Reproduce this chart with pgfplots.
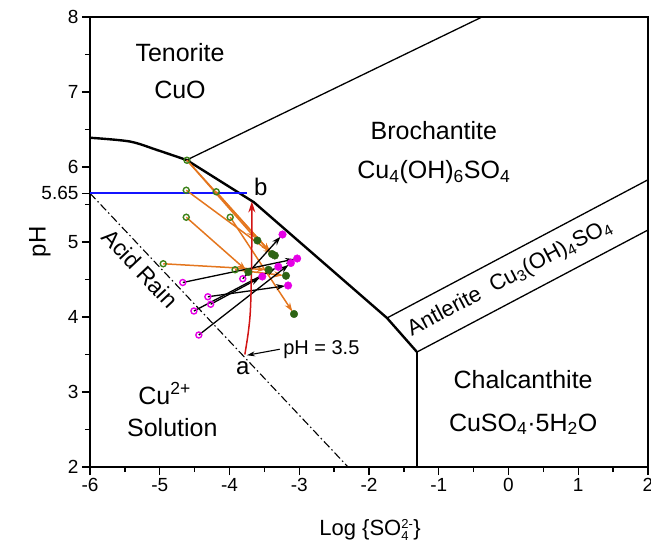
\documentclass[border=0pt]{standalone}
\usepackage{pgfplots}
\pgfplotsset{compat=1.18}
\usepackage{fontspec}
\setmainfont{Liberation Sans}
\usetikzlibrary{arrows.meta}
\definecolor{myorange}{RGB}{228,118,30}
\definecolor{mygreen}{RGB}{60,130,25}
\definecolor{mydkgreen}{RGB}{45,100,20}
\definecolor{mymag}{RGB}{230,0,230}
\definecolor{myred}{RGB}{210,20,20}
\definecolor{myblue}{RGB}{20,20,255}
\newcommand\fs[1]{\fontsize{#1}{#1}\selectfont}
\newcommand\ssb[3]{$^{\hbox{\fs{#3}#1}}_{\hbox{\fs{#3}#2}}$}
\begin{document}
\begin{tikzpicture}
\begin{axis}[
  scale only axis, width=558pt, height=450pt,
  xmin=-6, xmax=2, ymin=2, ymax=8,
  xtick={-6,-5,...,2},
  ytick={2,3,4,5,5.65,6,7,8},
  yticklabels={2,3,4,5,5.65,6,7,8},
  minor xtick={-5.5,-4.5,...,1.5},
  minor ytick={2.5,3.5,4.5,5.5,6.5,7.5},
  tick align=outside, xtick pos=bottom, ytick pos=left,
  major tick length=8pt, minor tick length=5pt,
  every tick/.style={black, line width=1.3pt},
  axis line style={line width=1.5pt},
  tick label style={font=\fs{19}},
  /pgf/number format/assume math mode=true,
  xlabel={Log \{SO\ssb{2-}{4}{13}\}},
  ylabel={pH},
  xlabel style={font=\fs{22}, at={(axis description cs:0.502,-0.14)}, anchor=center},
  ylabel style={font=\fs{24}, at={(axis description cs:-0.09,0.5)}, anchor=center},
  clip=true,
]
% phase boundaries
\addplot[black, line width=2.4pt, smooth, tension=0.5] coordinates {(-6,6.39) (-5.43,6.34) (-5.04,6.227) (-4.614,6.093)};
\addplot[black, line width=2.4pt] coordinates {(-4.614,6.093) (-3.65,5.53) (-1.742,3.987) (-1.312,3.533)};
\addplot[black, line width=1.3pt] coordinates {(-4.614,6.093) (-0.38,8)};
\addplot[black, line width=1.3pt] coordinates {(-1.742,3.987) (2,5.83)};
\addplot[black, line width=1.3pt] coordinates {(-1.312,3.533) (2,5.16)};
\addplot[black, line width=1.5pt] coordinates {(-1.312,3.533) (-1.312,2)};
% acid rain line
\addplot[black, line width=1.1pt, dash pattern=on 8pt off 3pt on 1.5pt off 3pt] coordinates {(-6,5.65) (-2.3,2.0)};
% pH 5.65 line
\addplot[color=myblue, line width=2pt] coordinates {(-6,5.65) (-3.75,5.65)};
% orange arrows (green points)
\pgfplotsset{oarr/.style={myorange, line width=1.5pt, -{Stealth[length=9pt,width=6pt]}, shorten >=3pt}}
\addplot[oarr] coordinates {(-4.61,6.09) (-3.60,5.02)};
\addplot[oarr] coordinates {(-4.61,6.09) (-3.39,4.84)};
\addplot[oarr] coordinates {(-4.62,5.69) (-3.35,4.82)};
\addplot[oarr] coordinates {(-4.19,5.67) (-3.39,4.84)};
\addplot[oarr] coordinates {(-3.99,5.33) (-3.075,4.04)};
\addplot[oarr] coordinates {(-4.62,5.33) (-3.73,4.60)};
\addplot[oarr] coordinates {(-4.95,4.71) (-3.44,4.63)};
\addplot[oarr] coordinates {(-3.92,4.63) (-3.19,4.55)};
% black arrows (magenta points)
\pgfplotsset{karr/.style={black, line width=1.3pt, -{Stealth[length=9pt,width=6pt]}, shorten >=3pt}}
\addplot[karr] coordinates {(-4.67,4.46) (-3.03,4.78)};
\addplot[karr] coordinates {(-3.81,4.51) (-3.24,5.10)};
\addplot[karr] coordinates {(-4.31,4.27) (-3.16,4.42)};
\addplot[karr] coordinates {(-4.27,4.17) (-3.53,4.54)};
\addplot[karr] coordinates {(-4.51,4.08) (-3.30,4.67)};
\addplot[karr] coordinates {(-4.44,3.76) (-3.12,4.72)};
% red path a -> b
\addplot[myred, line width=1.5pt, smooth, tension=0.6, -{Stealth[length=11pt,width=7pt]}] coordinates {(-3.78,3.5) (-3.73,3.8) (-3.70,4.1) (-3.685,4.6) (-3.68,5.1) (-3.68,5.54)};
% markers
\addplot[only marks, mark=o, mark size=3pt, mark options={mygreen, line width=1.4pt, fill=white}] coordinates {
(-4.61,6.09) (-4.62,5.69) (-4.19,5.67) (-4.62,5.33) (-3.99,5.33) (-4.95,4.71) (-3.92,4.63)};
\addplot[only marks, mark=*, mark size=3.8pt, mark options={mydkgreen, draw=mydkgreen}] coordinates {
(-3.60,5.02) (-3.39,4.84) (-3.35,4.82) (-3.73,4.60) (-3.44,4.63) (-3.19,4.55) (-3.075,4.04)};
\addplot[only marks, mark=o, mark size=3pt, mark options={mymag, line width=1.4pt, fill=white}] coordinates {
(-4.67,4.46) (-3.81,4.51) (-4.31,4.27) (-4.27,4.17) (-4.51,4.08) (-4.44,3.76)};
\addplot[only marks, mark=*, mark size=3.8pt, mark options={mymag, draw=mymag}] coordinates {
(-3.24,5.10) (-3.03,4.78) (-3.12,4.72) (-3.30,4.67) (-3.53,4.54) (-3.16,4.42)};
% labels
\node[font=\fs{25}] at (axis cs:-4.71,7.52) {Tenorite};
\node[font=\fs{25}] at (axis cs:-4.71,7.03) {CuO};
\node[font=\fs{25}] at (axis cs:-1.07,6.49) {Brochantite};
\node[font=\fs{25}] at (axis cs:-1.07,5.93) {Cu\textsubscript{4}(OH)\textsubscript{6}SO\textsubscript{4}};
\node[font=\fs{22}, rotate=27.9] at (axis cs:0.02,4.52) {Antlerite\ \ Cu\textsubscript{3}(OH)\textsubscript{4}SO\textsubscript{4}};
\node[font=\fs{25}] at (axis cs:0.21,3.16) {Chalcanthite};
\node[font=\fs{25}] at (axis cs:0.21,2.57) {CuSO\textsubscript{4}·5H\textsubscript{2}O};
\node[font=\fs{25}] at (axis cs:-4.93,2.98) {Cu\textsuperscript{2+}};
\node[font=\fs{25}] at (axis cs:-4.82,2.52) {Solution};
\node[font=\fs{23}, rotate=-46.7] at (axis cs:-5.28,4.65) {Acid Rain};
\node[font=\fs{24}] at (axis cs:-3.55,5.73) {b};
\node[font=\fs{24}] at (axis cs:-3.81,3.32) {a};
\node[font=\fs{20}, anchor=west] (ph) at (axis cs:-3.28,3.57) {pH = 3.5};
\draw[black, line width=1.1pt, -{Stealth[length=8pt,width=5pt]}] (ph.west) -- (axis cs:-3.75,3.49);
\end{axis}
\pgfresetboundingbox
\useasboundingbox (-90pt,-80pt) rectangle (561pt,467pt);
\end{tikzpicture}
\end{document}
